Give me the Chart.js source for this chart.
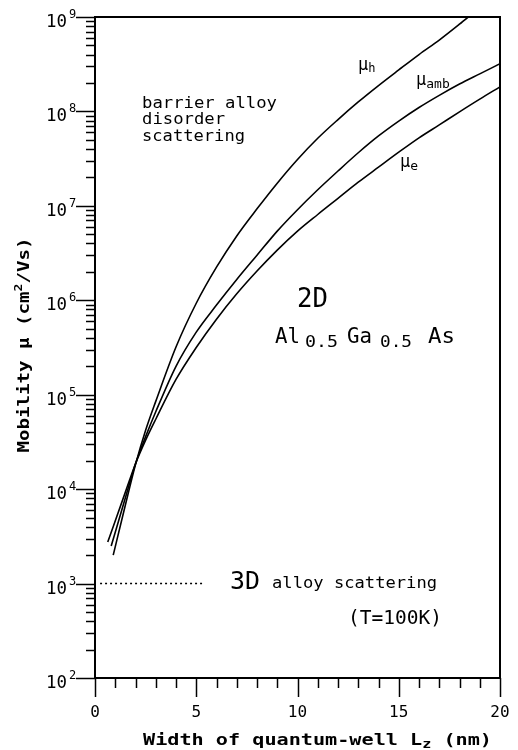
<!DOCTYPE html>
<html>
<head>
<meta charset="utf-8">
<script src="https://cdn.jsdelivr.net/npm/chart.js@4.4.1/dist/chart.umd.min.js"></script>
<style>
  html, body { margin: 0; padding: 0; background: #fff; }
  canvas { display: block; }
</style>
</head>
<body>
<canvas id="mobilityChart" width="518" height="750"></canvas>
<script>
// well width Lz (nm) and mobility (cm^2/Vs)
const lzHole = [0.9, 1.5, 2, 2.5, 3, 4, 5, 6, 7, 8, 9, 10, 11, 12, 13, 14, 15, 16, 17, 18, 18.6];
const muHole = [2.0e3, 6.8e3, 1.82e4, 4.2e4, 8.5e4, 3.2e5, 9.3e5, 2.24e6, 4.8e6, 9.3e6, 1.74e7,
                3.1e7, 5.2e7, 8.2e7, 1.26e8, 1.88e8, 2.75e8, 4.0e8, 5.7e8, 8.4e8, 1.07e9];

const lzAmb = [0.8, 1.5, 2, 2.5, 3, 4, 5, 6, 7, 8, 9, 10, 11, 12, 13, 14, 15, 16, 17, 18, 19, 20];
const muAmb = [2.5e3, 8.1e3, 1.86e4, 3.6e4, 6.6e4, 2.0e5, 4.6e5, 8.9e5, 1.66e6, 3.0e6, 5.4e6,
               9.1e6, 1.48e7, 2.34e7, 3.65e7, 5.5e7, 7.9e7, 1.1e8, 1.48e8, 1.95e8, 2.5e8, 3.2e8];

const lzElec = [0.63, 1.5, 2, 2.5, 3, 4, 5, 6, 7, 8, 9, 10, 11, 12, 13, 14, 15, 16, 17, 18, 19, 20];
const muElec = [2.75e3, 9.3e3, 1.86e4, 3.3e4, 5.5e4, 1.45e5, 3.16e5, 6.3e5, 1.17e6, 2.04e6, 3.4e6,
                5.4e6, 8.1e6, 1.2e7, 1.78e7, 2.57e7, 3.7e7, 5.25e7, 7.2e7, 9.9e7, 1.35e8, 1.82e8];

// 3D alloy scattering level
const lz3D = [0.25, 5.4];
const mu3D = [1e3, 1e3];

// axes
const xMajorTicks = [0, 5, 10, 15, 20];
const xTickLabels = ['0', '5', '10', '15', '20'];
const yDecadeExps = [2, 3, 4, 5, 6, 7, 8, 9];

const FONT = '"DejaVu Sans Mono", monospace';

function toPoints(xs, ys) {
    return xs.map((x, i) => ({ x: x, y: ys[i] }));
}

// draws a run of text pieces, optionally stretched to a given width
function drawRuns(ctx, parts, x, y, opt) {
    opt = opt || {};
    ctx.save();
    ctx.translate(x, y);
    if (opt.rotate) ctx.rotate(opt.rotate);
    let total = 0;
    parts.forEach(p => {
        ctx.font = (p.bold || opt.bold ? 'bold ' : '') + p.size + 'px ' + FONT;
        p.w = ctx.measureText(p.t).width;
        total += p.w;
    });
    const sx = opt.width ? opt.width / total : 1;
    ctx.scale(sx, 1);
    let cx = opt.align === 'center' ? -total / 2 : (opt.align === 'right' ? -total : 0);
    ctx.textBaseline = 'alphabetic';
    ctx.textAlign = 'left';
    ctx.fillStyle = '#000';
    parts.forEach(p => {
        ctx.font = (p.bold || opt.bold ? 'bold ' : '') + p.size + 'px ' + FONT;
        ctx.fillText(p.t, cx, p.dy || 0);
        cx += p.w;
    });
    ctx.restore();
}

const framePlugin = {
    id: 'frame',
    beforeDraw(chart) {
        const ctx = chart.ctx;
        ctx.save();
        ctx.fillStyle = '#fff';
        ctx.fillRect(0, 0, chart.width, chart.height);
        ctx.restore();
    },
    afterDraw(chart) {
        const ctx = chart.ctx;
        const a = chart.chartArea;
        const xs = chart.scales.x;
        const ys = chart.scales.y;

        ctx.save();
        ctx.strokeStyle = '#000';

        // box
        ctx.lineWidth = 2;
        ctx.strokeRect(a.left, a.top, a.right - a.left, a.bottom - a.top);

        // x ticks
        ctx.lineWidth = 1.5;
        for (let v = 0; v <= 20; v++) {
            const px = Math.round(xs.getPixelForValue(v)) + 0.5;
            const len = xMajorTicks.includes(v) ? 19 : 10;
            ctx.beginPath();
            ctx.moveTo(px, a.bottom);
            ctx.lineTo(px, a.bottom + len);
            ctx.stroke();
        }

        // y ticks
        yDecadeExps.forEach(e => {
            const base = Math.pow(10, e);
            let py = Math.round(ys.getPixelForValue(base)) + 0.5;
            ctx.beginPath();
            ctx.moveTo(a.left - 19, py);
            ctx.lineTo(a.left, py);
            ctx.stroke();
            if (e === 9) return;
            for (let m = 2; m <= 9; m++) {
                py = Math.round(ys.getPixelForValue(m * base)) + 0.5;
                ctx.beginPath();
                ctx.moveTo(a.left - 9, py);
                ctx.lineTo(a.left, py);
                ctx.stroke();
            }
        });
        ctx.restore();

        // x tick labels
        xMajorTicks.forEach((v, i) => {
            drawRuns(ctx, [{ t: xTickLabels[i], size: 16 }], xs.getPixelForValue(v), a.bottom + 39,
                { align: 'center' });
        });

        // y tick labels 10^n
        yDecadeExps.forEach(e => {
            const py = ys.getPixelForValue(Math.pow(10, e));
            drawRuns(ctx, [{ t: '10', size: 17 }], a.left - 28, py + 10, { align: 'right', width: 21 });
            drawRuns(ctx, [{ t: String(e), size: 12 }], a.left - 26, py + 1);
        });

        // axis titles
        drawRuns(ctx, [
            { t: 'Width of quantum-well L', size: 16 },
            { t: 'z', size: 12, dy: 3 },
            { t: ' (nm)', size: 16 }
        ], 143, 745, { bold: true, width: 349 });

        drawRuns(ctx, [
            { t: 'Mobility \u03bc (cm', size: 16 },
            { t: '2', size: 11, dy: -7 },
            { t: '/Vs)', size: 16 }
        ], 29, 345, { bold: true, align: 'center', width: 215, rotate: -Math.PI / 2 });

        // annotations
        drawRuns(ctx, [{ t: 'barrier alloy', size: 15 }], 142, 108, { width: 135 });
        drawRuns(ctx, [{ t: 'disorder', size: 15 }], 142, 124, { width: 83 });
        drawRuns(ctx, [{ t: 'scattering', size: 15 }], 142, 141, { width: 103 });

        drawRuns(ctx, [{ t: '\u03bc', size: 17 }, { t: 'h', size: 12, dy: 2 }], 358, 70);
        drawRuns(ctx, [{ t: '\u03bc', size: 17 }, { t: 'amb', size: 13, dy: 3 }], 416, 85);
        drawRuns(ctx, [{ t: '\u03bc', size: 17 }, { t: 'e', size: 13, dy: 3 }], 400, 167);

        drawRuns(ctx, [{ t: '2D', size: 26 }], 297, 307, { width: 31 });
        drawRuns(ctx, [{ t: 'Al', size: 21 }], 275, 343, { width: 25 });
        drawRuns(ctx, [{ t: '0.5', size: 15 }], 305, 347, { width: 33 });
        drawRuns(ctx, [{ t: 'Ga', size: 21 }], 347, 343, { width: 25 });
        drawRuns(ctx, [{ t: '0.5', size: 15 }], 380, 347, { width: 32 });
        drawRuns(ctx, [{ t: 'As', size: 21 }], 428, 343, { width: 27 });

        drawRuns(ctx, [{ t: '3D', size: 24 }], 230, 589, { width: 30 });
        drawRuns(ctx, [{ t: 'alloy scattering', size: 15 }], 272, 588, { width: 165 });
        drawRuns(ctx, [{ t: '(T=100K)', size: 19 }], 348, 624, { width: 94 });
    }
};

const curveStyle = {
    borderColor: '#000',
    borderWidth: 1.6,
    pointRadius: 0,
    fill: false,
    cubicInterpolationMode: 'monotone'
};

new Chart(document.getElementById('mobilityChart'), {
    type: 'line',
    data: {
        datasets: [
            Object.assign({ label: 'mu_h', data: toPoints(lzHole, muHole) }, curveStyle),
            Object.assign({ label: 'mu_amb', data: toPoints(lzAmb, muAmb) }, curveStyle),
            Object.assign({ label: 'mu_e', data: toPoints(lzElec, muElec) }, curveStyle),
            {
                label: '3D alloy scattering',
                data: toPoints(lz3D, mu3D),
                borderColor: '#000',
                borderWidth: 1.5,
                borderDash: [2, 3],
                pointRadius: 0,
                fill: false
            }
        ]
    },
    options: {
        responsive: false,
        animation: false,
        layout: { padding: { left: 95, right: 18, top: 17, bottom: 72 } },
        plugins: {
            legend: { display: false },
            tooltip: { enabled: false }
        },
        scales: {
            x: { type: 'linear', min: 0, max: 20, display: false },
            y: { type: 'logarithmic', min: 1e2, max: 1e9, display: false }
        }
    },
    plugins: [framePlugin]
});
</script>
</body>
</html>
